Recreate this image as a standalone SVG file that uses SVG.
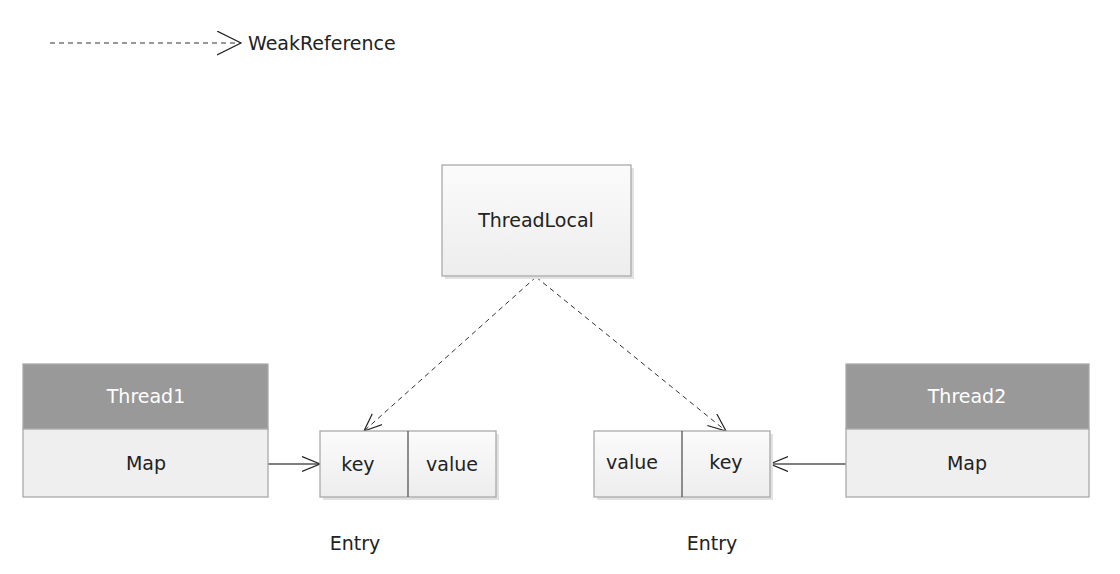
<svg xmlns="http://www.w3.org/2000/svg" width="1120" height="574" viewBox="0 0 1120 574">
<style>
text{font-family:"DejaVu Sans","Liberation Sans",sans-serif;font-size:19px;fill:#222;text-anchor:middle}
.box{stroke:#aaaaaa;stroke-width:1.3;fill:url(#g)}
.shadow{fill:#e2e2e2}
.head{fill:#999999;stroke:#aaaaaa;stroke-width:1.3}
.body{fill:#efefef;stroke:#aaaaaa;stroke-width:1.3}
.div{stroke:#555;stroke-width:1.3}
.wht{fill:#ffffff}
.dash{stroke:#333;stroke-width:1;stroke-dasharray:5,4;fill:none}
.solid{stroke:#555;stroke-width:1.5;fill:none}
</style>
<defs>
<linearGradient id="g" x1="0" y1="0" x2="0" y2="1">
<stop offset="0" stop-color="#fbfbfb"/>
<stop offset="1" stop-color="#ededed"/>
</linearGradient>
<marker id="a" markerUnits="userSpaceOnUse" markerWidth="20" markerHeight="18" refX="18" refY="8" orient="auto" viewBox="0 0 20 18">
<path d="M0,0.5 L18,8 L0,15.5" fill="none" stroke="#222" stroke-width="1.2"/>
</marker>
<marker id="al" markerUnits="userSpaceOnUse" markerWidth="26" markerHeight="26" refX="24" refY="12.5" orient="auto" viewBox="0 0 26 26">
<path d="M0,0.5 L24,12.5 L0,24.5" fill="none" stroke="#222" stroke-width="1.2"/>
</marker>
</defs>
<g id="legend">
<line x1="50" y1="43" x2="241" y2="43" class="dash" stroke="#666" marker-end="url(#al)"/>
<text x="248" y="50" style="text-anchor:start">WeakReference</text>
</g>
<g id="connectors">
<line x1="536" y1="277" x2="364" y2="431" class="dash" marker-end="url(#a)"/>
<line x1="536" y1="277" x2="726" y2="431" class="dash" marker-end="url(#a)"/>
<line x1="268" y1="464" x2="320" y2="464" class="solid" marker-end="url(#a)"/>
<line x1="846" y1="464" x2="770" y2="464" class="solid" marker-end="url(#a)"/>
</g>
<g id="threadlocal">
<rect x="445" y="168" width="189" height="111" class="shadow"/>
<rect x="442" y="165" width="189" height="111" class="box"/>
<text x="536" y="227">ThreadLocal</text>
</g>
<g id="thread1">
<rect x="23" y="364" width="245" height="65" class="head"/>
<rect x="23" y="429" width="245" height="68" class="body"/>
<text x="146" y="403" class="wht">Thread1</text>
<text x="146" y="470">Map</text>
</g>
<g id="entry1">
<rect x="323" y="434" width="176" height="66" class="shadow"/>
<rect x="320" y="431" width="176" height="66" class="box"/>
<line x1="408" y1="431" x2="408" y2="497" class="div"/>
<text x="358" y="471">key</text>
<text x="452" y="471">value</text>
</g>
<g id="entry2">
<rect x="597" y="434" width="176" height="66" class="shadow"/>
<rect x="594" y="431" width="176" height="66" class="box"/>
<line x1="682" y1="431" x2="682" y2="497" class="div"/>
<text x="632" y="469">value</text>
<text x="726" y="469">key</text>
</g>
<g id="thread2">
<rect x="846" y="364" width="243" height="65" class="head"/>
<rect x="846" y="429" width="243" height="68" class="body"/>
<text x="967" y="403" class="wht">Thread2</text>
<text x="967" y="470">Map</text>
</g>
<g id="labels">
<text x="355" y="550">Entry</text>
<text x="712" y="550">Entry</text>
</g>
</svg>
